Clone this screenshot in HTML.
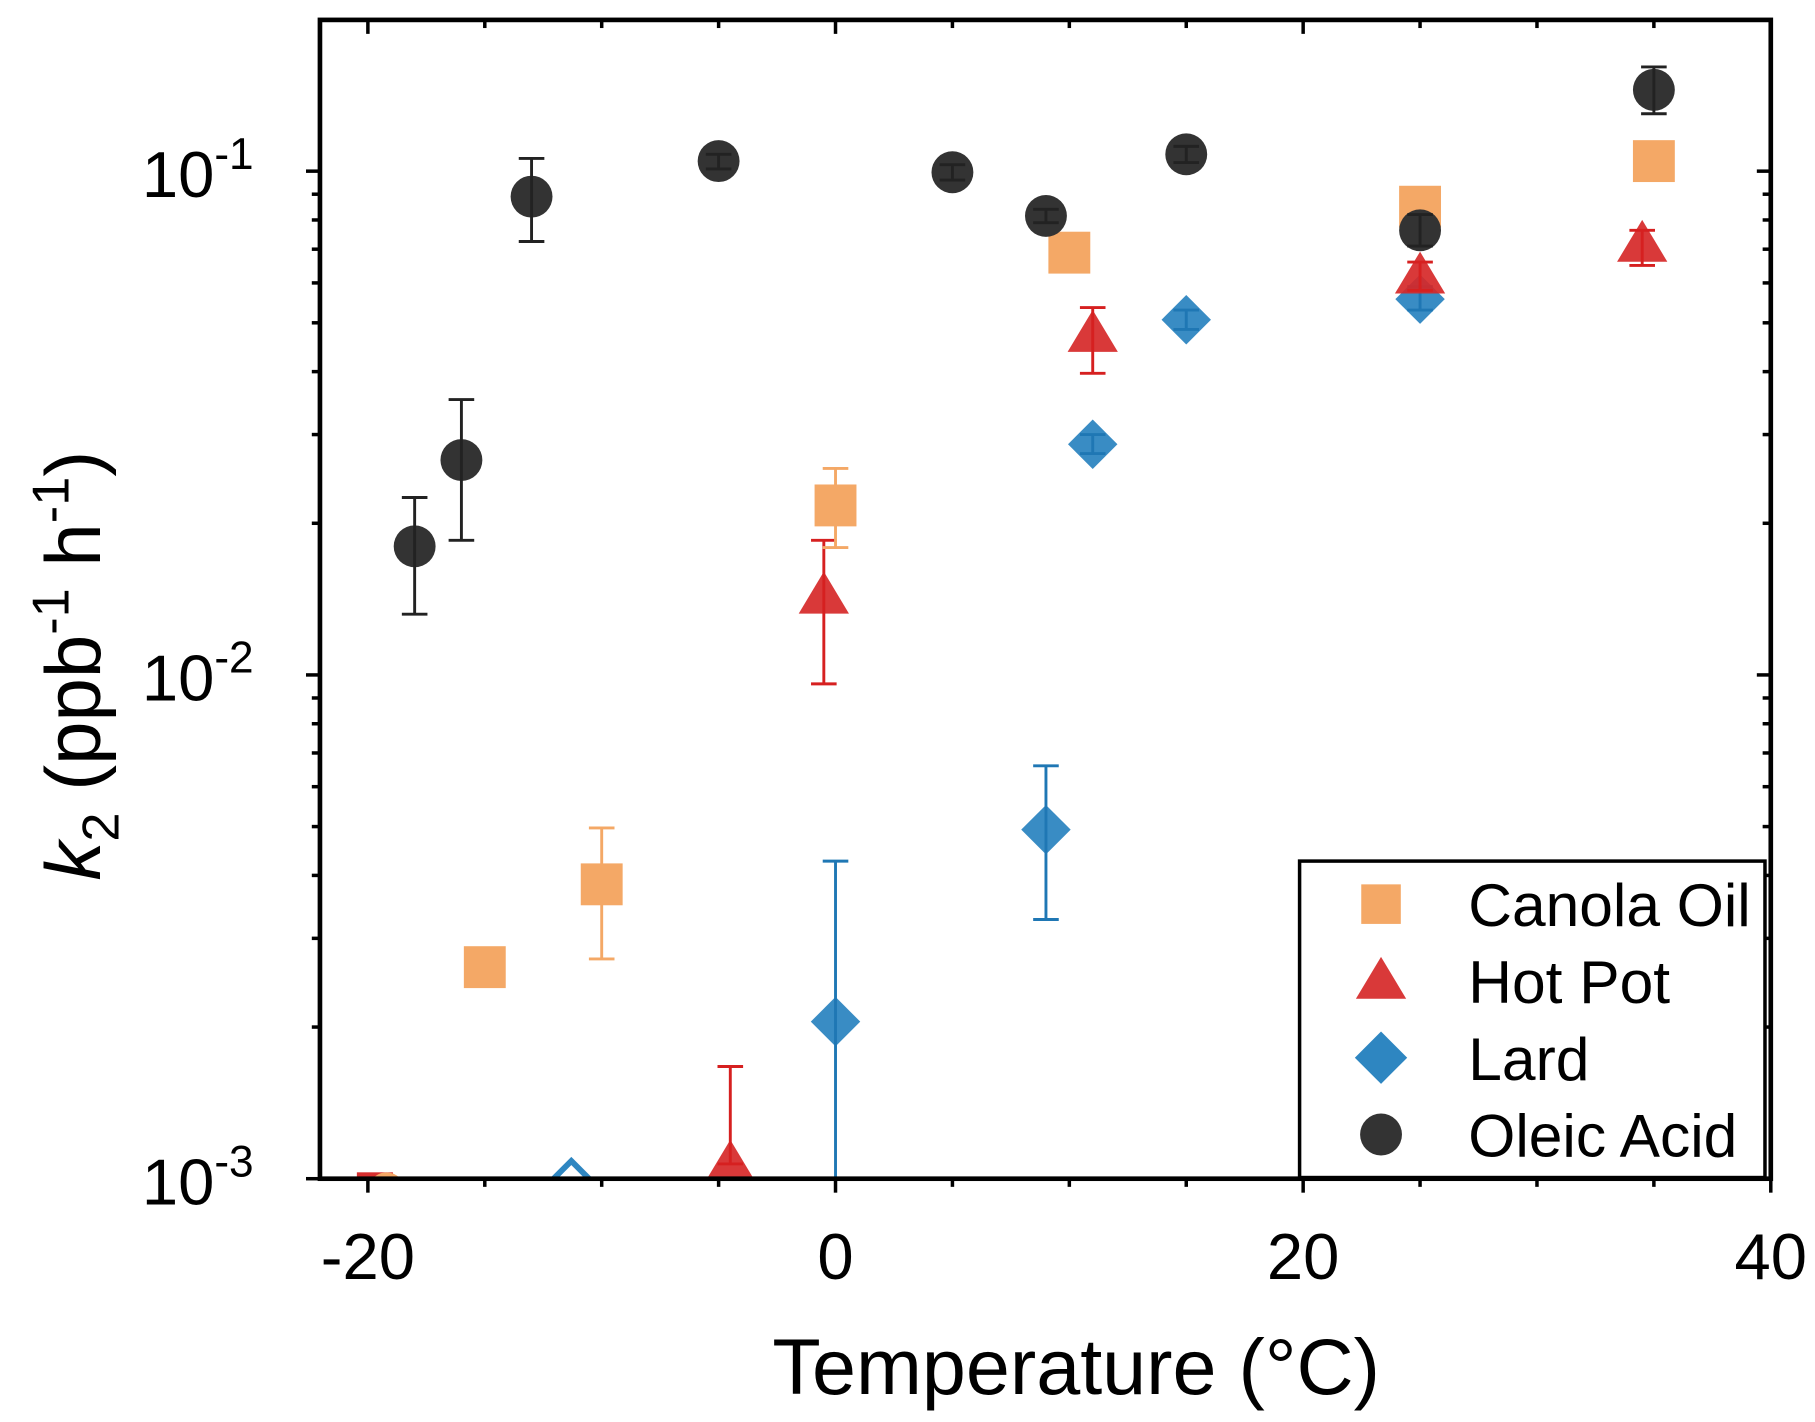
<!DOCTYPE html>
<html><head><meta charset="utf-8"><style>html,body{margin:0;padding:0;background:#fff}svg{display:block}text{font-family:"Liberation Sans",Arial,sans-serif}</style></head>
<body>
<svg id="chart" width="1815" height="1422" viewBox="0 0 1560 1222" xmlns="http://www.w3.org/2000/svg">
<defs><clipPath id="pc"><rect x="275" y="17" width="1247" height="996"/></clipPath></defs>
<g id="marks" clip-path="url(#pc)"></g>
<g id="axes"></g>
<g id="legend"></g>
</svg>
<script>
const xTicks = [-20, 0, 20, 40];
const xTickLabels = ["-20", "0", "20", "40"];
const yTickExps = [-3, -2, -1];
const oleicT = [-18, -16, -13, -5, 5, 9, 15, 25, 35];
const oleicK = [0.0180, 0.0267, 0.089, 0.1047, 0.0995, 0.0815, 0.108, 0.0763, 0.145];
const oleicHi = [0.0225, 0.0352, 0.106, 0.108, 0.103, 0.084, 0.112, 0.082, 0.161];
const oleicLo = [0.0132, 0.0185, 0.0725, 0.101, 0.096, 0.079, 0.104, 0.071, 0.130];
const canolaT = [-15, -10, 0, 10, 25, 35];
const canolaK = [0.00263, 0.00384, 0.0217, 0.0689, 0.0850, 0.1047];
const canolaHi = [0.00263, 0.00497, 0.0257, 0.0689, 0.0850, 0.1047];
const canolaLo = [0.00263, 0.00273, 0.0179, 0.0689, 0.0850, 0.1047];
const hotpotT = [-4.5, -0.5, 11, 25, 34.5];
const hotpotK = [0.00107, 0.01436, 0.0475, 0.062, 0.0717];
const hotpotHi = [0.00167, 0.0185, 0.0536, 0.066, 0.0763];
const hotpotLo = [0.00107, 0.0096, 0.0397, 0.058, 0.065];
const lardT = [0, 9, 11, 15, 25];
const lardK = [0.00205, 0.00493, 0.0287, 0.0507, 0.0557];
const lardHi = [0.00427, 0.00660, 0.0300, 0.0530, 0.0590];
const lardLo = [0.0008, 0.00327, 0.0275, 0.0485, 0.0530];
const belowT = [-19.7, -19.2, -11.3];
const belowSeries = ["hotpot-square", "canola-circle", "lard-diamond"];

const NS = "http://www.w3.org/2000/svg";
const X0 = 275, X1 = 1522, Y0 = 17, Y1 = 1013;
const xMin = -22.05, xMax = 40;
const lMin = -3, lMax = -3 + (1013 - 17) / 433;
function sx(v){ return X0 + (v - xMin) / (xMax - xMin) * (X1 - X0); }
function sy(v){ return Y1 - (Math.log10(v) - lMin) / (lMax - lMin) * (Y1 - Y0); }
function mk(tag, attrs, parent){ const e = document.createElementNS(NS, tag); for (const k in attrs) e.setAttribute(k, attrs[k]); parent.appendChild(e); return e; }
const marks = document.getElementById('marks'), axes = document.getElementById('axes'), legend = document.getElementById('legend');

function marker(shape, cx, cy, s, fill, parent, open){
  let e;
  const st = open ? {fill:'none', stroke:fill, 'stroke-width':5} : {fill:fill};
  if (shape === 'circle') e = mk('circle', Object.assign({cx:cx, cy:cy, r:s}, st), parent);
  else if (shape === 'square') e = mk('rect', Object.assign({x:cx-s, y:cy-s, width:2*s, height:2*s}, st), parent);
  else if (shape === 'triangle') e = mk('polygon', Object.assign({points:`${cx},${cy-s*1.15} ${cx-s*1.2},${cy+s*0.85} ${cx+s*1.2},${cy+s*0.85}`}, st), parent);
  else e = mk('polygon', Object.assign({points:`${cx},${cy-s*1.25} ${cx+s*1.25},${cy} ${cx},${cy+s*1.25} ${cx-s*1.25},${cy}`}, st), parent);
  return e;
}
function series(name, T, K, Hi, Lo, shape, fill, ecol, size){
  const g = mk('g', {}, marks);
  
  
  T.forEach((t, i) => {
    const cx = sx(t), cy = sy(K[i]);
    const m = marker(shape, cx, cy, size, fill, g, false);
    
    
    const yh = sy(Hi[i]), yl = sy(Lo[i]);
    if (Math.abs(yh - yl) > 1) {
      const eb = mk('path', {d:`M${cx},${yh}V${yl}M${cx-11},${yh}H${cx+11}M${cx-11},${yl}H${cx+11}`, stroke:ecol, 'stroke-width':2.5, fill:'none'}, g);
      
      
    }
  });
}
series('lard', lardT, lardK, lardHi, lardLo, 'diamond', 'rgba(46,134,193,0.95)', '#1f77b4', 17);
series('hotpot', hotpotT, hotpotK, hotpotHi, hotpotLo, 'triangle', 'rgba(214,40,40,0.92)', '#d62020', 18);
series('canola', canolaT, canolaK, canolaHi, canolaLo, 'square', '#F4A866', '#F4A866', 18);
series('oleic', oleicT, oleicK, oleicHi, oleicLo, 'circle', '#333333', '#222', 18);
const bs = [['square','#d62f2f',13],['circle','#F4A866',13],['diamond','#2e86c1',17]];
belowT.forEach((t,i) => {
  const m = marker(bs[i][0], sx(t), Y1 + (i===2?6:10), bs[i][2], bs[i][1], marks, true);
  
  
});

const fr = mk('rect', {x:X0, y:Y0, width:X1-X0, height:Y1-Y0, fill:'none', stroke:'#000', 'stroke-width':4}, axes);


for (let v = -20; v <= 40; v += 5) {
  const major = v % 20 === 0, x = sx(v), L = major ? 12 : 7;
  mk('line', {x1:x, x2:x, y1:Y1, y2:Y1+L, stroke:'#000', 'stroke-width':3}, axes);
  mk('line', {x1:x, x2:x, y1:Y0, y2:Y0+L, stroke:'#000', 'stroke-width':3}, axes);
}
xTicks.forEach((v, i) => {
  const t = mk('text', {x:sx(v), y:1099, 'font-size':56, 'text-anchor':'middle'}, axes);
  t.textContent = xTickLabels[i];
  
  
});
for (let e = -3; e <= -1; e++) {
  for (let m = 1; m <= 9; m++) {
    const v = m * Math.pow(10, e), y = sy(v);
    if (y < Y0) continue;
    const L = m === 1 ? 12 : 7;
    mk('line', {x1:X0-L, x2:X0, y1:y, y2:y, stroke:'#000', 'stroke-width':3}, axes);
    mk('line', {x1:X1-L, x2:X1, y1:y, y2:y, stroke:'#000', 'stroke-width':3}, axes);
  }
}
yTickExps.forEach(e => {
  const t = mk('text', {x:218, y:sy(Math.pow(10, e)) + 22, 'font-size':56, 'text-anchor':'end'}, axes);
  t.innerHTML = `10<tspan dy="-24" font-size="38">${e}</tspan>`;
  
  
});
const xt = mk('text', {x:925, y:1198, 'font-size':68, 'text-anchor':'middle'}, axes);
xt.textContent = 'Temperature (°C)';


const yt = mk('text', {x:0, y:0, 'font-size':67, 'text-anchor':'middle', transform:'translate(86,572) rotate(-90)'}, axes);
yt.innerHTML = '<tspan font-style="italic">k</tspan><tspan dy="16" font-size="45">2</tspan><tspan dy="-16"> (ppb</tspan><tspan dy="-27" font-size="45">-1</tspan><tspan dy="27"> h</tspan><tspan dy="-27" font-size="45">-1</tspan><tspan dy="27">)</tspan>';


const lb = mk('rect', {x:1117, y:740, width:400, height:272, fill:'#fff', stroke:'#000', 'stroke-width':3}, legend);


const leg = [['Canola Oil','square','#F4A866',17],['Hot Pot','triangle','rgba(214,40,40,0.92)',18],['Lard','diamond','#2e86c1',18],['Oleic Acid','circle','#333',18]];
leg.forEach((l, i) => {
  const y = 777 + i * 66;
  const m = marker(l[1], 1187, y, l[3], l[2], legend, false);
  
  
  const t = mk('text', {x:1262, y:y+19, 'font-size':52}, legend);
  t.textContent = l[0];
  
  
});
</script>
</body></html>
